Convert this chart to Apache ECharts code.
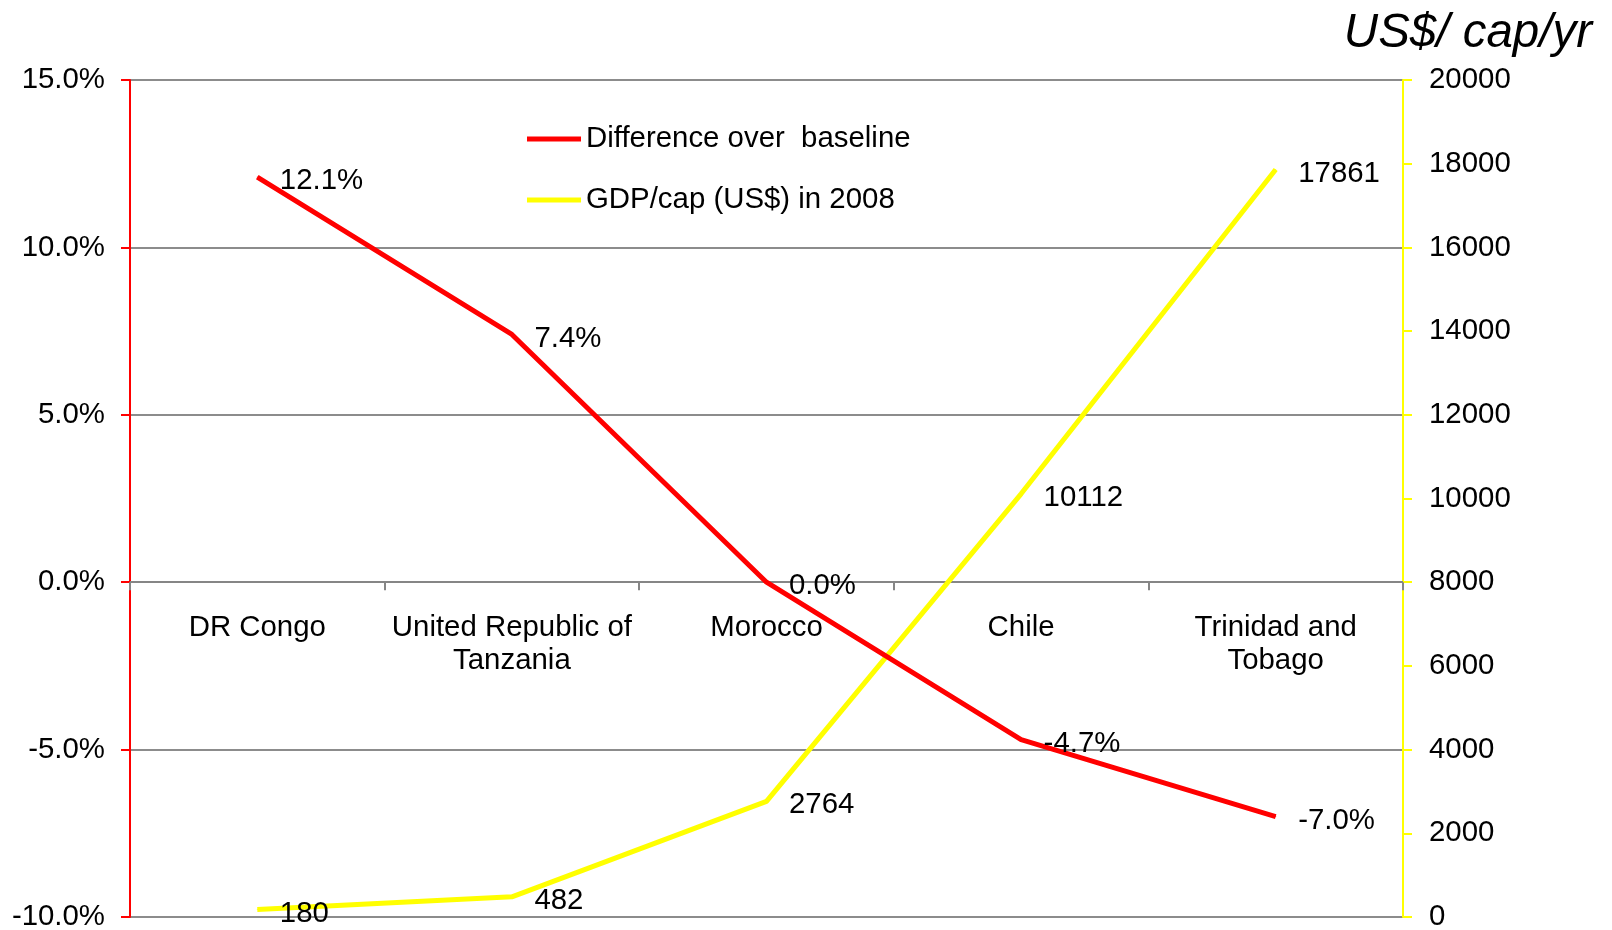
<!DOCTYPE html>
<html>
<head>
<meta charset="utf-8">
<script src="https://cdn.jsdelivr.net/npm/echarts@6/dist/echarts.min.js"></script>
<style>
html,body{margin:0;padding:0;background:#fff;}
#chart{width:1612px;height:930px;}
</style>
</head>
<body>
<div id="chart"></div>
<script>
const categories = ['DR Congo', 'United Republic of\nTanzania', 'Morocco', 'Chile', 'Trinidad and\nTobago'];
const diffValues = [12.1, 7.4, 0.0, -4.7, -7.0];
const gdpValues = [180, 482, 2764, 10112, 17861];
const seriesNames = ['Difference over  baseline', 'GDP/cap (US$) in 2008'];
const rightAxisTitle = 'US$/ cap/yr';

const FONT = 'Liberation Sans, Arial, sans-serif';
const FS = 29.4;
const GRID_TOP = 80, GRID_BOTTOM = 13, H = 930;
const plotH = H - GRID_TOP - GRID_BOTTOM;
const leftMin = -10, leftMax = 15;
const zeroOffset = -plotH * (0 - leftMin) / (leftMax - leftMin);

const chart = echarts.init(document.getElementById('chart'));
chart.setOption({
  animation: false,
  backgroundColor: '#ffffff',
  textStyle: { fontFamily: FONT },
  title: {
    text: rightAxisTitle,
    right: 20,
    top: 10,
    padding: 0,
    textStyle: { fontFamily: FONT, fontSize: 47.5, fontStyle: 'italic', fontWeight: 'normal', color: '#000' }
  },
  legend: {
    orient: 'vertical',
    left: 522,
    top: 117,
    itemWidth: 54,
    itemHeight: 5,
    itemGap: 27,
    icon: 'rect',
    textStyle: { fontFamily: FONT, fontSize: FS, lineHeight: 34, color: '#000' },
    data: seriesNames
  },
  grid: { left: 130, right: 209, top: GRID_TOP, bottom: GRID_BOTTOM, containLabel: false, outerBoundsMode: 'none' },
  xAxis: {
    type: 'category',
    data: categories,
    boundaryGap: true,
    offset: zeroOffset,
    axisLine: { onZero: false, lineStyle: { color: '#868686', width: 2 } },
    axisTick: { show: true, length: 8, lineStyle: { color: '#868686', width: 2 } },
    axisLabel: { interval: 0, margin: 29, fontFamily: FONT, fontSize: FS, lineHeight: 33, color: '#000' },
    splitLine: { show: false }
  },
  yAxis: [
    {
      type: 'value', min: leftMin, max: leftMax, interval: 5,
      axisLine: { show: true, lineStyle: { color: '#ff0000', width: 2 } },
      axisTick: { show: true, length: 9, lineStyle: { color: '#ff0000', width: 2 } },
      axisLabel: { margin: 25, fontFamily: FONT, fontSize: FS, color: '#000', formatter: v => v.toFixed(1) + '%' },
      splitLine: { show: true, lineStyle: { color: '#8c8c8c', width: 2 } }
    },
    {
      type: 'value', min: 0, max: 20000, interval: 2000, position: 'right',
      axisLine: { show: true, lineStyle: { color: '#ffff00', width: 2 } },
      axisTick: { show: true, length: 9, lineStyle: { color: '#ffff00', width: 2 } },
      axisLabel: { margin: 26, fontFamily: FONT, fontSize: FS, color: '#000', formatter: v => String(v) },
      splitLine: { show: false }
    }
  ],
  series: [
    {
      name: seriesNames[0], type: 'line', yAxisIndex: 0, data: diffValues,
      symbol: 'circle', symbolSize: 1, showSymbol: true, color: '#ff0000',
      lineStyle: { color: '#ff0000', width: 5 },
      label: { show: true, position: 'right', distance: 22, fontFamily: FONT, fontSize: FS, color: '#000', formatter: p => p.value.toFixed(1) + '%' },
      labelLayout: { hideOverlap: false, dy: 4 },
      z: 3
    },
    {
      name: seriesNames[1], type: 'line', yAxisIndex: 1, data: gdpValues,
      symbol: 'circle', symbolSize: 1, showSymbol: true, color: '#ffff00',
      lineStyle: { color: '#ffff00', width: 5 },
      label: { show: true, position: 'right', distance: 22, fontFamily: FONT, fontSize: FS, color: '#000' },
      labelLayout: { hideOverlap: false, dy: 4 },
      z: 2
    }
  ]
});
</script>
</body>
</html>
